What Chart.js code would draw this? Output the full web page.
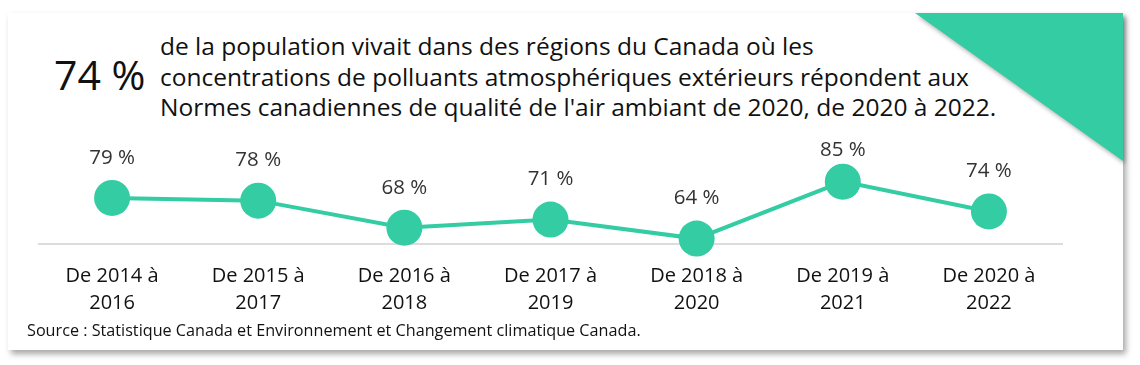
<!DOCTYPE html>
<html lang="fr">
<head>
    <meta charset="UTF-8">
    <title>Qualité de l'air ambiant</title>
    <script src="https://cdn.jsdelivr.net/npm/chart.js@4.4.0/dist/chart.umd.min.js"></script>
    <style>
        html, body {
            margin: 0;
            padding: 0;
            background: #fff;
            font-family: 'Open Sans', sans-serif;
            color: #111;
        }
        .card {
            position: absolute;
            left: 8px;
            top: 13px;
            width: 1115px;
            height: 337px;
            background: #fff;
            box-shadow: 3px 4px 6px rgba(0, 0, 0, 0.35);
        }
        .corner-wrap {
            position: absolute;
            left: 915px;
            top: 13px;
            width: 208px;
            height: 148px;
            filter: drop-shadow(2px 3px 2px rgba(0, 0, 0, 0.3));
        }
        .corner {
            width: 100%;
            height: 100%;
            background: #33cca3;
            clip-path: polygon(0 0, 100% 0, 100% 100%);
        }
        .big {
            position: absolute;
            left: 54px;
            top: 48px;
            font-size: 41px;
            line-height: 52px;
        }
        .headline {
            position: absolute;
            left: 160px;
            top: 31px;
            font-size: 24.5px;
            line-height: 30.5px;
            width: 900px;
        }
        .source {
            position: absolute;
            left: 27px;
            top: 319px;
            font-size: 16.2px;
            line-height: 22px;
        }
        #chart {
            position: absolute;
            left: 0;
            top: 0;
        }
    </style>
</head>
<body>
    <div class="card"></div>
    <div class="corner-wrap"><div class="corner"></div></div>
    <div class="big">74 %</div>
    <div class="headline">de la population vivait dans des régions du Canada où les<br>concentrations de polluants atmosphériques extérieurs répondent aux<br>Normes canadiennes de qualité de l'air ambiant de 2020, de 2020 à 2022.</div>
    <canvas id="chart" width="1140" height="365"></canvas>
    <div class="source">Source : Statistique Canada et Environnement et Changement climatique Canada.</div>

    <script>
        // data
        const periods = [
            ['De 2014 à', '2016'],
            ['De 2015 à', '2017'],
            ['De 2016 à', '2018'],
            ['De 2017 à', '2019'],
            ['De 2018 à', '2020'],
            ['De 2019 à', '2021'],
            ['De 2020 à', '2022']
        ];
        const shares = [79, 78, 68, 71, 64, 85, 74];
        const teal = '#33cca3';

        // value labels above each point
        const valueLabels = {
            id: 'valueLabels',
            afterDatasetsDraw(chart) {
                const ctx = chart.ctx;
                const meta = chart.getDatasetMeta(0);
                ctx.save();
                ctx.font = '20.5px "Open Sans"';
                ctx.fillStyle = '#333';
                ctx.textAlign = 'center';
                ctx.textBaseline = 'middle';
                meta.data.forEach((pt, i) => {
                    const y = Math.max(pt.y - 40, chart.chartArea.top + 9);
                    ctx.fillText(shares[i] + ' %', pt.x, y);
                });
                ctx.restore();
            }
        };

        new Chart(document.getElementById('chart'), {
            type: 'line',
            data: {
                labels: periods,
                datasets: [{
                    data: shares,
                    borderColor: teal,
                    backgroundColor: teal,
                    borderWidth: 4,
                    pointRadius: 18,
                    pointHoverRadius: 18,
                    pointBorderWidth: 0,
                    tension: 0,
                    clip: false
                }]
            },
            options: {
                responsive: false,
                animation: false,
                layout: { padding: { left: 39, right: 78, top: 141, bottom: 29 } },
                plugins: {
                    legend: { display: false },
                    tooltip: { enabled: false }
                },
                scales: {
                    x: {
                        offset: true,
                        grid: { display: false, drawTicks: false },
                        border: { display: true, color: '#dcdcdc', width: 2 },
                        ticks: {
                            color: '#111',
                            padding: 19,
                            maxRotation: 0,
                            font: { family: 'Open Sans', size: 20, lineHeight: 1.35 }
                        }
                    },
                    y: {
                        display: false,
                        min: 62,
                        max: 100
                    }
                }
            },
            plugins: [valueLabels]
        });
    </script>
</body>
</html>
